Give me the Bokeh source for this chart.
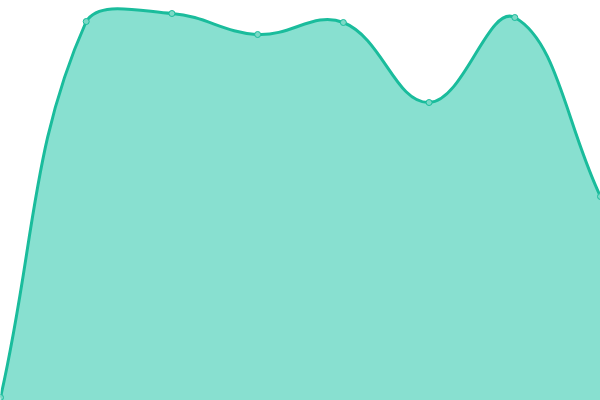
import numpy as np
from bokeh.plotting import figure
from bokeh.models import Range1d
from bokeh.embed import file_html
from bokeh.resources import INLINE

# ---- data ----
x_index = [0, 1, 2, 3, 4, 5, 6, 7]
values = [0.75, 94.75, 96.75, 91.5, 94.5, 74.5, 95.75, 51.0]

# ---- style / layout ----
W, H = 600, 400
YMIN, YMAX = 0, 100
XMIN, XMAX = 0, 7
TENSION = 0.4
LINE = "#1abc9c"
FILL = "#88e0d0"


def to_px(x, y):
    return ((x - XMIN) / (XMAX - XMIN) * W, (y - YMIN) / (YMAX - YMIN) * H)


def to_data(px, py):
    return (px / W * (XMAX - XMIN) + XMIN, py / H * (YMAX - YMIN) + YMIN)


pts = [to_px(x, y) for x, y in zip(x_index, values)]
n = len(pts)
cp_prev = []
cp_next = []
for i in range(n):
    p0 = pts[i - 1] if i > 0 else pts[i]
    p1 = pts[i]
    p2 = pts[i + 1] if i < n - 1 else pts[i]
    d01 = np.hypot(p1[0] - p0[0], p1[1] - p0[1])
    d12 = np.hypot(p2[0] - p1[0], p2[1] - p1[1])
    tot = d01 + d12
    s01 = d01 / tot if tot else 0
    s12 = d12 / tot if tot else 0
    fa = TENSION * s01
    fb = TENSION * s12
    dx, dy = p2[0] - p0[0], p2[1] - p0[1]
    a = (min(max(p1[0] - fa * dx, 0), W), min(max(p1[1] - fa * dy, 0), H))
    b = (min(max(p1[0] + fb * dx, 0), W), min(max(p1[1] + fb * dy, 0), H))
    cp_prev.append(to_data(*a))
    cp_next.append(to_data(*b))

x0 = x_index[:-1]
y0 = values[:-1]
x1 = x_index[1:]
y1 = values[1:]
cx0 = [c[0] for c in cp_next[:-1]]
cy0 = [c[1] for c in cp_next[:-1]]
cx1 = [c[0] for c in cp_prev[1:]]
cy1 = [c[1] for c in cp_prev[1:]]

# sampled outline of the bezier segments, used only for the filled area
t = np.linspace(0, 1, 40)
fx, fy = [], []
for i in range(n - 1):
    bx = ((1 - t) ** 3 * x0[i] + 3 * (1 - t) ** 2 * t * cx0[i]
          + 3 * (1 - t) * t ** 2 * cx1[i] + t ** 3 * x1[i])
    by = ((1 - t) ** 3 * y0[i] + 3 * (1 - t) ** 2 * t * cy0[i]
          + 3 * (1 - t) * t ** 2 * cy1[i] + t ** 3 * y1[i])
    fx.extend(bx.tolist())
    fy.extend(by.tolist())

p = figure(width=W, height=H, output_backend="svg", toolbar_location=None,
           x_range=Range1d(XMIN, XMAX), y_range=Range1d(YMIN, YMAX),
           min_border=0)
p.axis.visible = False
p.grid.visible = False
p.outline_line_color = None
p.background_fill_color = "white"
p.border_fill_color = "white"

p.varea(x=fx, y1=[YMIN] * len(fx), y2=fy, fill_color=FILL, fill_alpha=1.0)
p.bezier(x0=x0, y0=y0, x1=x1, y1=y1, cx0=cx0, cy0=cy0, cx1=cx1, cy1=cy1,
         line_color=LINE, line_width=3)
p.scatter(x=x_index, y=values, size=6, fill_color="#7bd9c6",
          line_color=LINE, line_width=1)

open("out.html", "w").write(file_html(p, INLINE))
